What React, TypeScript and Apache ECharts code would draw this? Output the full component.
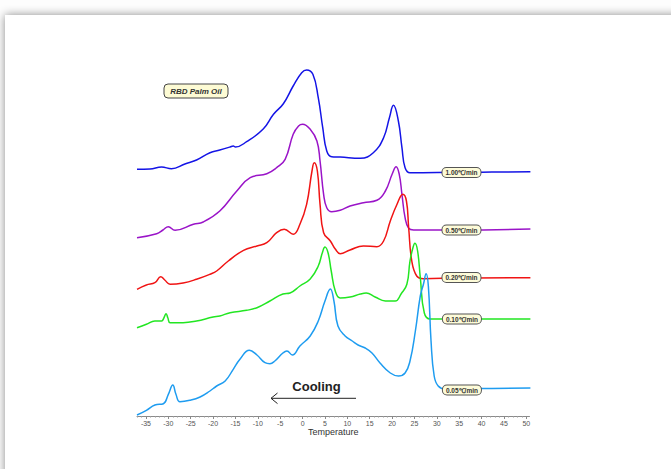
import React, { useEffect, useRef } from 'react';
import * as echarts from 'echarts';

// Temperature (°C) vs. heat-flow (arbitrary units, stacked offsets)
const rate100: [number, number][] = [
  [-37.0, 246.7], [-34.1, 247], [-31.5, 249], [-29.3, 247.3], [-26.3, 252], [-23.7, 256],
  [-20.7, 263.3], [-18.5, 266], [-16.2, 269], [-15.5, 270], [-15.0, 269], [-12.5, 274.3],
  [-8.8, 287], [-6.5, 301.7], [-4.3, 312.3], [-2.1, 330], [-0.2, 343.3], [0.9, 346],
  [2.3, 341.7], [3.5, 318.3], [4.5, 288.3], [5.4, 265], [6.5, 259.3], [8.4, 259],
  [12.9, 257.7], [15.8, 263.3], [18.1, 278.3], [19.4, 298.3], [20.3, 310.7], [21.4, 295],
  [22.2, 268.3], [22.9, 248.3], [24.0, 243.3], [30, 243.5], [40, 243.8], [50.9, 244.3],
];
const rate050: [number, number][] = [
  [-37.0, 178.3], [-32.6, 182.3], [-31.2, 186], [-30.0, 189.3], [-28.5, 185.7], [-24.4, 191.7],
  [-22.2, 194], [-18.5, 205], [-14.7, 225], [-11.7, 238.3], [-8.0, 242.3], [-5.8, 248.3],
  [-3.9, 256.7], [-2.1, 281.7], [-0.9, 290], [0.0, 291.7], [1.7, 286.7], [3.2, 275],
  [3.9, 255], [4.7, 221.7], [5.4, 208.3], [6.5, 204.3], [8.4, 205.7], [10.6, 210],
  [13.6, 213.3], [16.6, 215.7], [18.5, 225], [20.0, 241.7], [20.9, 249.3], [21.6, 241.7],
  [22.2, 221.7], [22.9, 198.3], [23.7, 187.7], [24.8, 186], [35, 186], [50.9, 187],
];
const rate020: [number, number][] = [
  [-37.0, 126.7], [-34.9, 131], [-33.0, 133.3], [-31.7, 139.3], [-30.8, 136], [-29.6, 131.7],
  [-26.7, 133], [-23.7, 136.7], [-20.7, 141.7], [-19.2, 145], [-16.6, 155], [-13.2, 165.7],
  [-10.2, 170], [-8.0, 173.3], [-5.8, 183.3], [-4.1, 186.7], [-2.1, 181.7], [-0.6, 191.7],
  [0.9, 211.7], [2.1, 245], [2.6, 253.3], [3.3, 245], [3.9, 211.7], [4.7, 183.3],
  [6.2, 175], [7.3, 167], [8.4, 162.3], [10.6, 166], [13.6, 170], [16.6, 169.3],
  [18.1, 175], [19.6, 195], [21.1, 211.7], [22.4, 221.7], [23.2, 215], [23.7, 188.3],
  [24.4, 155], [25.5, 140], [27.0, 137.3], [35, 138], [50.9, 138.3],
];
const rate010: [number, number][] = [
  [-37.0, 88.3], [-34.9, 91.7], [-33.0, 95], [-31.5, 95], [-31.0, 98], [-30.5, 102.3],
  [-30.1, 98], [-29.6, 93.3], [-26.7, 93.3], [-23.7, 95], [-20.0, 99], [-18.5, 100],
  [-16.2, 103.3], [-12.5, 105.7], [-10.2, 108.3], [-7.3, 115], [-4.4, 122], [-2.8, 123],
  [-0.6, 130], [1.7, 137], [3.5, 150], [4.4, 163], [5.0, 169], [5.7, 163],
  [6.4, 145], [7.3, 125], [8.4, 118], [10.6, 119], [12.9, 122], [14.2, 123],
  [16.2, 119], [18.5, 115], [20.7, 115], [22.0, 122], [23.3, 131.7], [24.0, 155],
  [24.7, 169], [25.1, 172.7], [25.7, 165], [26.3, 138.3], [27.2, 103], [28.5, 97],
  [40, 97], [50.9, 97],
];
const rate005: [number, number][] = [
  [-37.0, 1], [-34.9, 5.7], [-33.0, 11], [-31.1, 12.3], [-30.0, 21.7], [-29.0, 31],
  [-28.3, 21.7], [-27.4, 14.3], [-25.2, 15.7], [-22.9, 19], [-20.7, 25], [-19.2, 30],
  [-17.3, 35], [-15.5, 46.7], [-14.0, 56.7], [-11.9, 65.7], [-10.2, 61], [-8.4, 53.3],
  [-7.3, 52.3], [-6.2, 55], [-4.4, 63], [-3.5, 65], [-2.3, 61], [-0.6, 70],
  [1.7, 80], [3.5, 95], [5.0, 115], [6.2, 127], [7.0, 115], [7.9, 90],
  [9.5, 80], [11.1, 75], [12.4, 71], [14.0, 68], [15.5, 63], [17.3, 53],
  [19.6, 43], [21.4, 40], [22.9, 43], [24.0, 55], [25.2, 85], [26.3, 120],
  [27.0, 131.7], [27.6, 142.3], [28.1, 130], [28.7, 75], [29.4, 40], [30.3, 30],
  [31.9, 27], [40, 27.5], [50.9, 28],
];

const rateNames = ['1.00℃/min', '0.50℃/min', '0.20℃/min', '0.10℃/min', '0.05℃/min'];
const rateColors = ['#1414e6', '#9a14c8', '#f01414', '#22e622', '#1e9cf0'];
const labelAnchors: [number, number][] = [[35.5, 243.5], [35.5, 186], [35.5, 138.5], [35.6, 97], [35.6, 26]];
const tickValues = [-35, -30, -25, -20, -15, -10, -5, 0, 5, 10, 15, 20, 25, 30, 35, 40, 45, 50];
const minorTickValues: number[] = [];
for (let t = -37; t <= 50; t++) if (t % 5 !== 0) minorTickValues.push(t);

const FONT = 'Liberation Sans, Arial, sans-serif';

export default function App() {
  const ref = useRef<HTMLDivElement>(null);
  useEffect(() => {
    const chart = echarts.init(ref.current!, null, { renderer: 'svg' });
    const datasets = [rate100, rate050, rate020, rate010, rate005];
    const series = datasets.map((d, i) => ({
      type: 'line',
      name: rateNames[i],
      data: d,
      xAxisIndex: 0,
      smooth: 0.45,
      symbol: 'none',
      showSymbol: false,
      silent: true,
      lineStyle: { color: rateColors[i], width: 1.5 },
      markPoint: {
        symbol: 'circle',
        symbolSize: 1,
        silent: true,
        itemStyle: { color: 'rgba(0,0,0,0)' },
        label: {
          show: true,
          position: 'inside',
          formatter: '{b}',
          fontFamily: FONT,
          fontSize: 6.5,
          fontWeight: 'bold',
          color: '#333',
          backgroundColor: '#fdfbd8',
          borderColor: '#555',
          borderWidth: 1,
          borderRadius: 4,
          padding: [1, 3, 1, 3],
        },
        data: [{ name: rateNames[i], coord: labelAnchors[i] }],
      },
    }));
    chart.setOption({
      animation: false,
      backgroundColor: '#fdfdfd',
      grid: { left: 137, right: 141.5, top: 56, bottom: 53, containLabel: false },
      xAxis: [
        {
          type: 'value',
          min: -37,
          max: 50.7,
          position: 'bottom',
          axisLine: { show: true, lineStyle: { color: '#8a8a8a', width: 1 } },
          axisTick: { show: true, customValues: tickValues, length: 3, lineStyle: { color: '#8a8a8a' } },
          axisLabel: { customValues: tickValues, fontSize: 7, color: '#555', margin: 4, fontFamily: FONT },
          splitLine: { show: false },
          name: 'Temperature',
          nameLocation: 'middle',
          nameGap: 11,
          nameMoveOverlap: false,
          nameTextStyle: { fontSize: 9, color: '#333', fontFamily: FONT },
        },
        {
          type: 'value',
          min: -37,
          max: 50.7,
          position: 'bottom',
          axisLine: { show: false },
          axisTick: { show: true, customValues: minorTickValues, length: 1.5, lineStyle: { color: '#9a9a9a' } },
          axisLabel: { show: false },
          splitLine: { show: false },
        },
      ],
      yAxis: { type: 'value', min: 0, max: 360, show: false },
      graphic: [
        {
          type: 'rect',
          z: -10,
          silent: true,
          shape: { x: 5, y: 15, width: 720, height: 520 },
          style: { fill: '#ffffff', shadowBlur: 10, shadowColor: 'rgba(0,0,0,0.45)' },
        },
        {
          type: 'rect',
          z: 10,
          silent: true,
          shape: { x: 164, y: 84, width: 64, height: 14, r: 4 },
          style: { fill: '#fdfbd4', stroke: '#444', lineWidth: 1 },
        },
        {
          type: 'text',
          z: 11,
          silent: true,
          x: 196,
          y: 91.2,
          style: {
            text: 'RBD Palm Oil',
            fontFamily: FONT,
            fontSize: 8,
            fontStyle: 'italic',
            fontWeight: 'bold',
            fill: '#333',
            align: 'center',
            verticalAlign: 'middle',
          },
        },
        {
          type: 'text',
          z: 11,
          silent: true,
          x: 316.5,
          y: 386.5,
          style: {
            text: 'Cooling',
            fontFamily: FONT,
            fontSize: 13,
            fontWeight: 'bold',
            fill: '#222',
            align: 'center',
            verticalAlign: 'middle',
          },
        },
        {
          type: 'line',
          z: 11,
          silent: true,
          shape: { x1: 271, y1: 398.3, x2: 356, y2: 398.3 },
          style: { stroke: '#222', lineWidth: 1 },
        },
        {
          type: 'polyline',
          z: 11,
          silent: true,
          shape: { points: [[277.5, 393], [271, 398.3], [277.5, 403.6]] },
          style: { stroke: '#222', lineWidth: 1, fill: 'none' },
        },
      ],
      series,
    });
    return () => chart.dispose();
  }, []);
  return <div ref={ref} style={{ position: 'fixed', left: 0, top: 0, width: 671, height: 469 }} />;
}
